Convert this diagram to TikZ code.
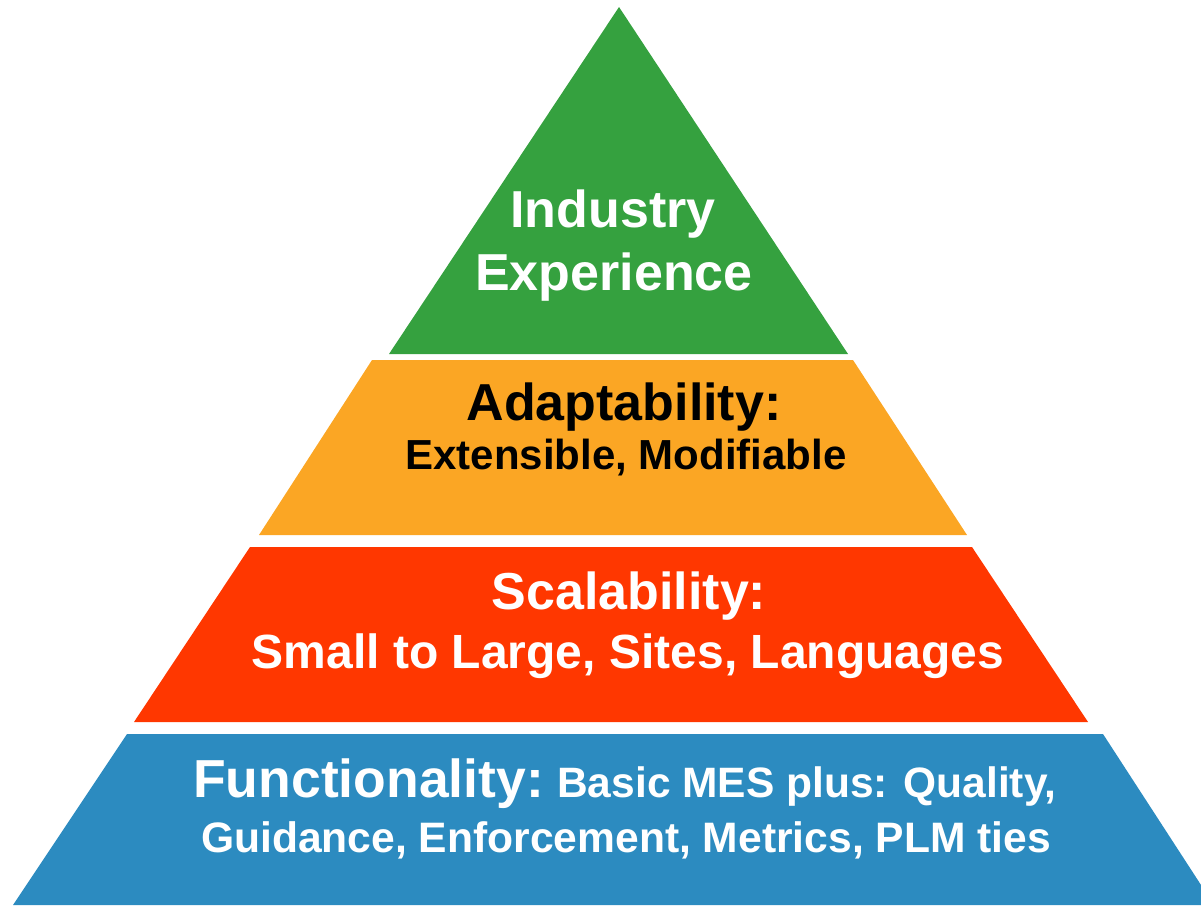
\documentclass[tikz,border=0pt]{standalone}
\usepackage{fontspec}
\setmainfont{Liberation Sans}
\usetikzlibrary{positioning}
\definecolor{pgreen}{RGB}{53,161,63}
\definecolor{porange}{RGB}{251,166,36}
\definecolor{pred}{RGB}{255,55,0}
\definecolor{pblue}{RGB}{44,139,192}

\begin{document}
\begin{tikzpicture}[x=1pt,y=-1pt]
\tikzstyle{every node}+=[inner sep=0pt]
\tikzstyle{bigtext}=[font=\fontsize{52}{60}\selectfont\bfseries, anchor=base]
\tikzstyle{smalltext}=[font=\fontsize{42}{50}\selectfont\bfseries, anchor=base]
\useasboundingbox (0,0) rectangle (1201,905);
\clip (0,0) rectangle (1201,905);
% bands, top to bottom
\fill [pgreen] (619,7) -- (848,354) -- (389,354) -- cycle;
\fill [porange] (372,360) -- (853,360) -- (967,535) -- (259,535) -- cycle;
\fill [pred] (250,547) -- (972,547) -- (1088,722) -- (134,722) -- cycle;
\fill [pblue] (127,734) -- (1103,734) -- (1214,905) -- (13,905) -- cycle;
% labels
\node [bigtext, white] (industry) at (613,227) {Industry};
\node [bigtext, white] (experience) at (614,290) {Experience};
\node [bigtext, black] (adapt) at (624,420) {Adaptability:};
\node [smalltext, black] (extens) at (626,469) {Extensible, Modifiable};
\node [bigtext, white] (scal) at (629,609) {Scalability:};
\node [smalltext, white, font=\fontsize{48}{56}\selectfont\bfseries] (small) at (628,668) {Small to Large, Sites, Languages};
\node [bigtext, white, anchor=base west, font=\fontsize{53.5}{60}\selectfont\bfseries] (func) at (193,797) {Functionality:};
\node [smalltext, white, anchor=base west, font=\fontsize{42.5}{50}\selectfont\bfseries] (basic) at ([xshift=13pt]func.base east) {Basic MES plus: Quality,};
\node [smalltext, white, font=\fontsize{42.6}{50}\selectfont\bfseries] (guid) at (626,852) {Guidance, Enforcement, Metrics, PLM ties};
\end{tikzpicture}
\end{document}
